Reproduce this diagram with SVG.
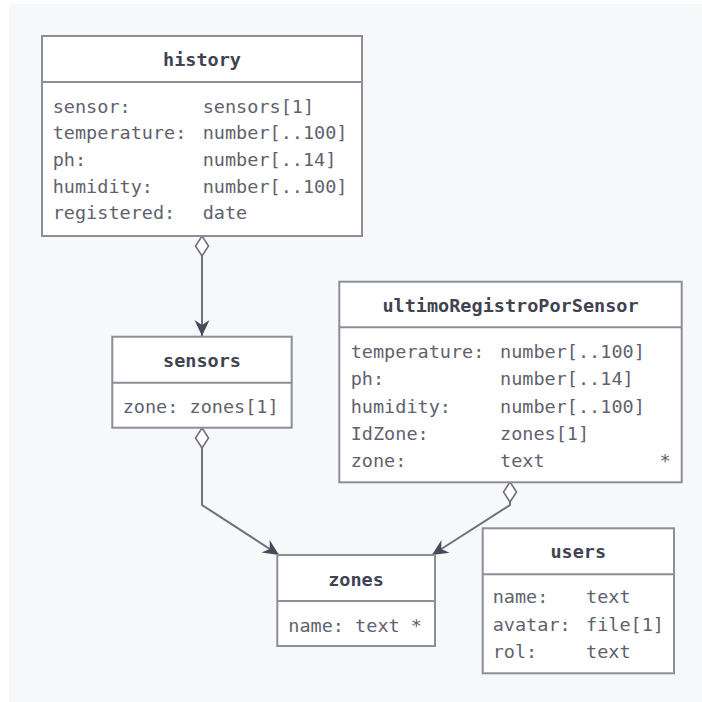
<svg xmlns="http://www.w3.org/2000/svg" width="702" height="702" viewBox="0 0 702 702">
<style>
.bg{fill:#f7f8fa}
.box{fill:#ffffff;stroke:#8c8e98;stroke-width:2}
.div{stroke:#8c8e98;stroke-width:2}
.title{font-family:"DejaVu Sans Mono","Liberation Mono",monospace;font-size:18.5px;font-weight:bold;fill:#3f4352;text-anchor:middle}
.attr{font-family:"DejaVu Sans Mono","Liberation Mono",monospace;font-size:18.5px;fill:#5f626e}
.conn{fill:none;stroke:#6f727e;stroke-width:2;marker-start:url(#dia);marker-end:url(#arr)}
</style>
<defs>
<marker id="dia" markerUnits="userSpaceOnUse" markerWidth="24" markerHeight="16" refX="0" refY="8" orient="auto" overflow="visible">
<path d="M0,8 L10,1.5 L20,8 L10,14.5 Z" fill="#ffffff" stroke="#6f727e" stroke-width="1.6"/>
</marker>
<marker id="arr" markerUnits="userSpaceOnUse" markerWidth="18" markerHeight="16" refX="16" refY="8" orient="auto" overflow="visible">
<path d="M0,0.5 L16,8 L0,15.5 L5,8 Z" fill="#474a59"/>
</marker>
</defs>
<rect class="bg" x="9" y="4" width="693" height="698"/>
<g id="connectors">
<path class="conn" d="M202,236 L202,336"/>
<path class="conn" d="M202,428 L202,505 L279,555"/>
<path class="conn" d="M510,482 L510,505 L432,555"/>
</g>
<g id="history">
<rect class="box" x="42" y="36" width="320" height="200"/>
<line class="div" x1="42" y1="82" x2="362" y2="82"/>
<text class="title" x="202" y="65.5">history</text>
<text class="attr" x="52.7" y="112.5">sensor:</text><text class="attr" x="202.7" y="112.5">sensors[1]</text>
<text class="attr" x="52.7" y="139.2">temperature:</text><text class="attr" x="202.7" y="139.2">number[..100]</text>
<text class="attr" x="52.7" y="165.9">ph:</text><text class="attr" x="202.7" y="165.9">number[..14]</text>
<text class="attr" x="52.7" y="192.6">humidity:</text><text class="attr" x="202.7" y="192.6">number[..100]</text>
<text class="attr" x="52.7" y="219.3">registered:</text><text class="attr" x="202.7" y="219.3">date</text>
</g>
<g id="sensors">
<rect class="box" x="112.3" y="336.7" width="179.4" height="91"/>
<line class="div" x1="112.3" y1="382.7" x2="291.7" y2="382.7"/>
<text class="title" x="202" y="367">sensors</text>
<text class="attr" x="122.7" y="412.5">zone: zones[1]</text>
</g>
<g id="ultimoRegistroPorSensor">
<rect class="box" x="339.3" y="281.7" width="342.4" height="200.6"/>
<line class="div" x1="339.3" y1="327.3" x2="681.7" y2="327.3"/>
<text class="title" x="510.5" y="312">ultimoRegistroPorSensor</text>
<text class="attr" x="350.7" y="358">temperature:</text><text class="attr" x="500" y="358">number[..100]</text>
<text class="attr" x="350.7" y="385">ph:</text><text class="attr" x="500" y="385">number[..14]</text>
<text class="attr" x="350.7" y="412.5">humidity:</text><text class="attr" x="500" y="412.5">number[..100]</text>
<text class="attr" x="350.7" y="439.5">IdZone:</text><text class="attr" x="500" y="439.5">zones[1]</text>
<text class="attr" x="350.7" y="466.5">zone:</text><text class="attr" x="500" y="466.5">text</text><text class="attr" x="659.5" y="466.5">*</text>
</g>
<g id="zones">
<rect class="box" x="277.3" y="555" width="157.7" height="91"/>
<line class="div" x1="277.3" y1="601" x2="435" y2="601"/>
<text class="title" x="356" y="586">zones</text>
<text class="attr" x="288.3" y="631.5">name: text *</text>
</g>
<g id="users">
<rect class="box" x="482.7" y="528.3" width="191.3" height="145"/>
<line class="div" x1="482.7" y1="574.3" x2="674" y2="574.3"/>
<text class="title" x="578.3" y="558">users</text>
<text class="attr" x="492.7" y="603">name:</text><text class="attr" x="586" y="603">text</text>
<text class="attr" x="492.7" y="630.5">avatar:</text><text class="attr" x="586" y="630.5">file[1]</text>
<text class="attr" x="492.7" y="658">rol:</text><text class="attr" x="586" y="658">text</text>
</g>
</svg>
